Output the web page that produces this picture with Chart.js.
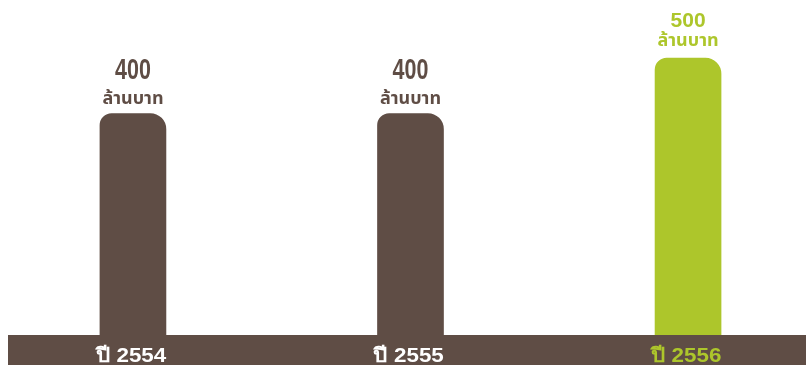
<!DOCTYPE html>
<html><head><meta charset="utf-8">
<script src="https://cdn.jsdelivr.net/npm/chart.js@4.4.0/dist/chart.umd.min.js"></script>
<style>html,body{margin:0;padding:0;background:#fff;}#wrap{width:806px;height:365px;}</style>
</head><body><div id="wrap"><canvas id="c" width="806" height="365"></canvas></div>
<script>
const years = ["ปี 2554", "ปี 2555", "ปี 2556"];
const values = [400, 400, 500];
const unitLabel = "ล้านบาท";
const positions = [0, 1, 2];

const BROWN = "#5f4d45";
const GREEN = "#adc62b";
const colors = [BROWN, BROWN, GREEN];

function stretchedText(ctx, text, x, y, sx) {
  ctx.save();
  ctx.translate(x, y);
  ctx.scale(sx, 1);
  ctx.fillText(text, 0, 0);
  ctx.restore();
}

const overlay = {
  id: "overlay",
  beforeDatasetsDraw(chart) {
    const ctx = chart.ctx, a = chart.chartArea;
    ctx.save();
    ctx.fillStyle = BROWN;
    ctx.fillRect(8, a.bottom, chart.width - 8, chart.height - a.bottom);
    ctx.restore();
  },
  afterDatasetsDraw(chart) {
    const ctx = chart.ctx, a = chart.chartArea;
    const meta = chart.getDatasetMeta(0);
    const xs = chart.scales.x;
    ctx.save();
    ctx.textAlign = "center";
    meta.data.forEach((bar, i) => {
      const last = i === values.length - 1;
      ctx.fillStyle = colors[i];
      ctx.textBaseline = "alphabetic";
      if (last) {
        ctx.font = "bold 21px 'Liberation Sans', Arial, sans-serif";
        ctx.fillText(String(values[i]), bar.x, bar.y - 31);
      } else {
        ctx.font = "bold 29px 'Liberation Sans', Arial, sans-serif";
        stretchedText(ctx, String(values[i]), bar.x, bar.y - 35, 0.74);
      }
      ctx.font = "bold 18px 'Noto Sans Thai', 'Tahoma', sans-serif";
      ctx.fillText(unitLabel, bar.x, bar.y - (last ? 12 : 10));
      // year labels in band
      ctx.font = "bold 20px 'Liberation Sans', Arial, sans-serif";
      ctx.fillStyle = last ? GREEN : "#ffffff";
      ctx.textBaseline = "alphabetic";
      stretchedText(ctx, years[i], xs.getPixelForValue(positions[i]) - 2, 362, 1.12);
    });
    ctx.restore();
  }
};

new Chart(document.getElementById("c"), {
  type: "bar",
  data: {
    datasets: [{
      data: positions.map((p, i) => ({ x: p, y: values[i] })),
      backgroundColor: colors,
      barThickness: 66,
      borderRadius: { topLeft: 12, topRight: 16, bottomLeft: 0, bottomRight: 0 },
      borderSkipped: "bottom"
    }]
  },
  options: {
    responsive: false,
    animation: false,
    devicePixelRatio: 1,
    layout: { padding: { left: 0, right: 0, top: 0, bottom: 30 } },
    plugins: { legend: { display: false }, tooltip: { enabled: false } },
    scales: {
      x: { type: "linear", display: false, offset: false, min: -0.479, max: 2.425 },
      y: { display: false, min: 0, max: 605 }
    }
  },
  plugins: [overlay]
});
</script></body></html>
